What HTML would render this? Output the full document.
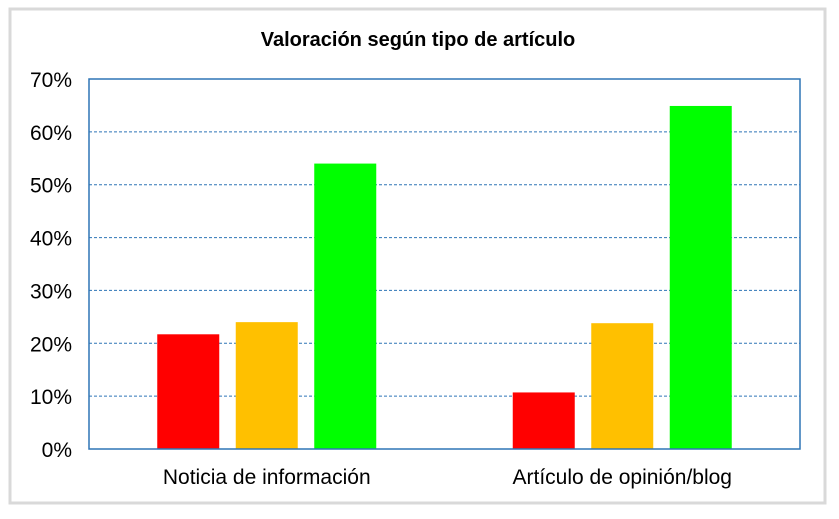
<!DOCTYPE html>
<html><head><meta charset="utf-8"><style>
body{margin:0;background:#fff;width:839px;height:514px;overflow:hidden;font-family:"Liberation Sans",Arial,sans-serif}
</style></head><body>
<svg width="839" height="514">
<rect x="10" y="9" width="815" height="494" fill="#fff" stroke="#d9d9d9" stroke-width="3"/>
<text x="418" y="46" text-anchor="middle" font-size="20" font-weight="bold">Valoración según tipo de artículo</text>
<g id="grid"></g><g id="bars"></g><g id="labels"></g>
<rect x="89" y="79" width="711" height="370" fill="none" stroke="#2e75b6" stroke-width="1.5"/>
</svg>
<script>
const categories=["Noticia de información","Artículo de opinión/blog"];
const serieRojo=[21.7,10.7];
const serieNaranja=[24,23.8];
const serieVerde=[54,64.9];
const ticks=[0,10,20,30,40,50,60,70];
const tickLabels=["0%","10%","20%","30%","40%","50%","60%","70%"];
const colors=["#ff0000","#ffc000","#00ff00"];
const NS="http://www.w3.org/2000/svg";
const L=89,R=800,T=79,B=449,MAX=70;
const y=v=>B-(v/MAX)*(B-T);
const gw=(R-L)/categories.length;
const grid=document.getElementById('grid'),bars=document.getElementById('bars'),labels=document.getElementById('labels');
function mk(tag,a){const e=document.createElementNS(NS,tag);for(const k in a)e.setAttribute(k,a[k]);return e;}
ticks.forEach((t,i)=>{
 if(t>0&&t<MAX){const l=mk('line',{x1:L,x2:R,y1:y(t),y2:y(t),stroke:'#2e75b6','stroke-width':1,'stroke-dasharray':'3,2'});
 
 
 grid.appendChild(l);}
 const tx=mk('text',{x:72,y:y(t)+8,'text-anchor':'end','font-size':21});
 tx.textContent=tickLabels[i];
 
 
 labels.appendChild(tx);
});
const series=[serieRojo,serieNaranja,serieVerde];
const bw=62,step=78.5;
categories.forEach((c,ci)=>{
 const cx=L+gw*(ci+0.5);
 series.forEach((s,si)=>{
  const x=cx+(si-1)*step-bw/2;
  const r=mk('rect',{x:x,y:y(s[ci]),width:bw,height:B-y(s[ci]),fill:colors[si]});
  
  
  bars.appendChild(r);
 });
 const tx=mk('text',{x:cx,y:484,'text-anchor':'middle','font-size':21});
 tx.textContent=c;
 
 
 labels.appendChild(tx);
});
</script>
</body></html>
